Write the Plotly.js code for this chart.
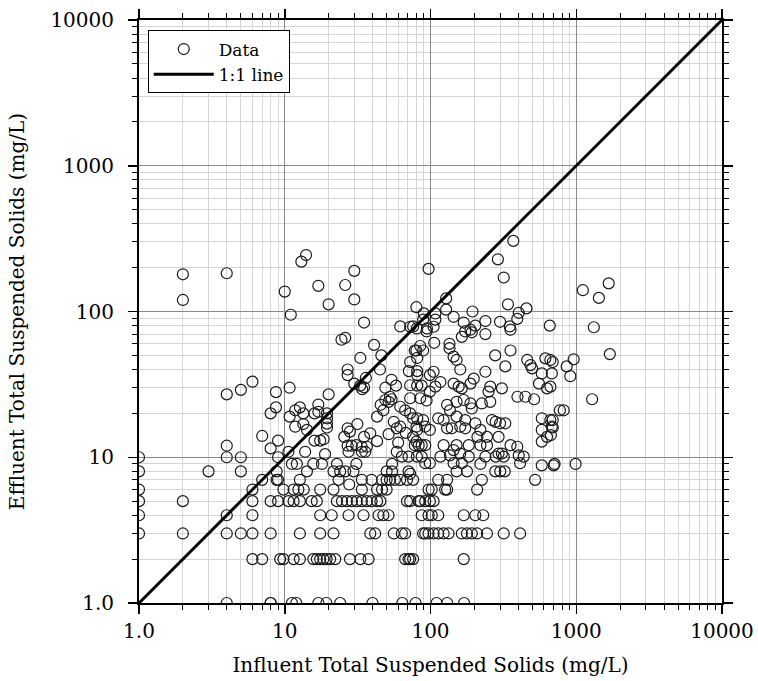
<!DOCTYPE html>
<html>
<head>
<meta charset="utf-8">
<script src="https://cdn.plot.ly/plotly-3.0.1.min.js"></script>
<style>html,body{margin:0;padding:0;background:#fff;}#chart{width:758px;height:681px;}</style>
</head>
<body>
<div id="chart"></div>
<script>
// Influent / effluent TSS pairs (mg/L)
const influent = [
1,1,1,1,1,1, 2,2,2,2, 3, 4,4,4,4,4,4,4, 5,5,5,5, 6,6,6,6,6,6, 7,7,7, 8,8,8,8,8,
8.7,8.7,9,9,9,9,9.3, 10,11, 14,13,30,17,26,30,20,
80,35,62,76,24.5,26,41,46,33,80,81,27,45,71,81,27,30,36,33,34,35,54,58,49,81,10.8,20,17,17,11.8,12.7,13.4,10.8,16,19.5,19.5,19.5,19.5,11.8,13.4,14.2,16,17.5,18.5,27,28,31.5,25.6,27,28.8,38.6,35,43,51.6,49,51.6,45.5,47.5,52.7,54,62,72.5,67,72.5,56,43,76,80,58.6,62,67.6,76,80,60,33.7,36.6,31,
10.6,13.8,18.9,27.4,33.8,35.7,58.7,63.6,70.7,80.6,
11.2,12.1,15.7,18,22.8,31,54.5,
8.8,14.2,21.6,24,26,29.6,50,54.5,70.7,
8.8,12.7,23.4,27.7,33.8,39.4,46.5,50,52.7,57,61.9,69,76,
9.8,11.5,12.4,13.5,17.5,21.6,33.8,43,46.5,50,
10.6,11.5,12.7,15.3,16.6,22.8,24.7,26.7,28.9,31.2,33.8,36.6,39.4,43,45.3,69,83,
17.5,21,27.4,34.7,44,47.5,51.5,
12.7,17.5,21.6,38.6,41.7,56,63.6,67,
9.8,11.5,12.7,15.7,16.6,17.5,18.4,19.4,20.5,22.2,28,33,37.6,67,70.7,76,
8,11.2,12,17,19.3,24,40,64,79,110,130,170,
370,290,318,97,340,128,128,194,455,403,394,108,108,90,89,144,169,238,300,203,188,173,238,350,658,164,72.5,80.6,94.5,105,85,106,135,135,354,
94,192,354,78,89,72.5,144,151,160,278,326,238,198,188,461,485,498,614,664,580,680,555,630,81,99,105,72.5,87,108,117,144,156,164,257,250,309,395,448,514,772,85,94,99,130,136,151,169,188,192,225,257,81,89,113,123,151,173,203,264,280,300,326,580,664,680,580,630,580,81,99,92,130,140,160,173,220,210,244,293,354,394,78,83,87,92,123,151,183,220,244,293,309,403,144,160,
580,700,522,412,209,278,301,323,220,238,280,318,436,178,151,99,92,144,164,72.5,113,130,97,102,126,130,72.5,85,92,99,105,87,97,102,113,169,203,230,89,92,97,105,113,123,133,164,178,192,209,244,318,412,72.5,169,87,117,136,183,225,
1110,1670,1430,1320,1700,960,860,690,910,665,1285,820,690,690,670,710,990
];
const effluent = [
10,8,6,5,4,3, 180,120,5,3, 8, 183,27,12,10,4,3,1, 29,10,8,3, 33,6,5,4,3,2, 14,7,2, 20,11.5,5,3,1,
28,22,13,10,7,5,2, 137,95, 244,220,190,150,152,121,112,
107,84,79,79,64,66,59,50,48,54,48,40,40,39,39,36.6,32,35,31,29.3,30.2,34,31,30,31,30,27,23,20.5,21,22,20,19,20,20,18.5,17,16,16.2,16.9,15.4,13,13,13.3,15.8,15,16.9,13.8,12,12,14.6,13.8,12.9,14.4,24.7,24,22.9,21,26,25,22.2,25.4,21,20,17.5,19,18.5,16.2,15.8,16.2,14.7,13.8,12.8,12.6,11.8,11.8,12.1,
10.9,10.9,10.5,10.9,10.9,10.9,10.9,10.1,10.1,10.1,
9,9,9,9,9,9,9,
8,8,8,8,8,8,8,8,8,
7,7,7,6.5,7,7,7,7,7,7,7,7,7,
6,6,6,6,6,6,6,6,6,6,
5,5,5,5,5,5,5,5,5,5,5,5,5,5,5,5,5,
4,4,4,4,4,4,4,
3,3,3,3,3,3,3,3,
2,2,2,2,2,2,2,2,2,2,2,2,2,2,2,2,
1,1,1,1,1,1,1,1,1,1,1,1,
305,228,171,196,112,123,103,100,105,98,89,97,88,97,88,92,84,86,85,80,75,73,70,79,80,67,78.6,76.5,76.5,78.6,58,61,60,56,54,
73,72,75,54,54,45,49,46.5,40,50,42,38.6,34.6,32,46.5,42.9,40.7,47.7,46.5,37.6,37.6,32,29.7,36.6,36.6,38.6,31.2,31,30.5,32.8,32,30.5,29.7,30.5,28.2,29.7,26,26,25,21,25.4,24.5,28.2,22.9,21,24,24.7,23.4,21.6,23.4,24,18.5,18,18.5,18,19,18,17.1,18,17.5,17.1,17.1,18.5,18,16.2,15.4,13.8,12.8,15.4,15.4,16.2,15.8,15.8,16.2,15.8,15.4,13.8,13.8,13.8,12.1,11.8,12.1,12.1,12.1,12.1,12.1,12.1,12.1,12.1,12.1,10.6,10.6,10.3,11.2,10.6,
8.8,8.8,7,9.1,6,8,8,8,9,10.1,10.1,10.1,10.1,8,8,9.1,9.1,9.1,9.1,7.7,7,7,6,6,6,6,5,5,5,5,5,4,4,4,4,4,4,4,3,3,3,3,3,3,3,3,3,3,3,3,3,3,2,2,10.1,10.1,10.3,10.1,7,
140,156,124,78,51,47,42,45,36,30.5,25,21,18,16,14.2,9,9
];
const oneToOne = [1, 10000];
const majorTicks = [1, 10, 100, 1000, 10000];
const majorLabels = ['1.0', '10', '100', '1000', '10000'];

const minorTicks = [];
[1, 10, 100, 1000].forEach(d => { for (let k = 2; k <= 9; k++) minorTicks.push(k * d); });

const serif = 'DejaVu Serif, serif';
function axis(title, standoff, labelGap) {
  return {
    type: 'log', range: [0, 4],
    tickmode: 'array', tickvals: majorTicks, ticktext: majorLabels,
    ticks: 'outside', ticklen: 9, tickwidth: 1.5, tickcolor: '#000',
    ticklabelstandoff: labelGap,
    showline: true, linecolor: '#000', linewidth: 2, mirror: 'allticks',
    showgrid: true, gridcolor: '#8a8a8a', gridwidth: 1, zeroline: false,
    minor: { tickmode: 'array', tickvals: minorTicks, ticks: 'outside', ticklen: 5,
             tickwidth: 1, tickcolor: '#000', showgrid: true, gridcolor: '#d4d4d4', gridwidth: 1 },
    tickfont: { family: serif, size: 20, color: '#000' },
    title: { text: title, font: { family: serif, size: 20, color: '#000' }, standoff: standoff }
  };
}

const traces = [
  { x: influent, y: effluent, type: 'scatter', mode: 'markers', name: 'Data',
    marker: { symbol: 'circle-open', size: 11, color: '#1a1a1a', line: { width: 1.2, color: '#1a1a1a' } } },
  { x: oneToOne, y: oneToOne, type: 'scatter', mode: 'lines', name: '1:1 line',
    line: { color: '#000', width: 3 } }
];

const layout = {
  width: 758, height: 681,
  margin: { l: 139, r: 36, t: 20, b: 78 },
  paper_bgcolor: '#fff', plot_bgcolor: '#fff',
  xaxis: axis('Influent Total Suspended Solids (mg/L)', 16, 0),
  yaxis: axis('Effluent Total Suspended Solids (mg/L)', 20, 10),
  showlegend: true,
  legend: { x: 0.015, xanchor: 'left', y: 0.982, yanchor: 'top', itemwidth: 60,
            bgcolor: '#fff', bordercolor: '#000', borderwidth: 1,
            font: { family: serif, size: 17, color: '#000' } }
};

Plotly.newPlot('chart', traces, layout, { displayModeBar: false, staticPlot: true });
</script>
</body>
</html>
